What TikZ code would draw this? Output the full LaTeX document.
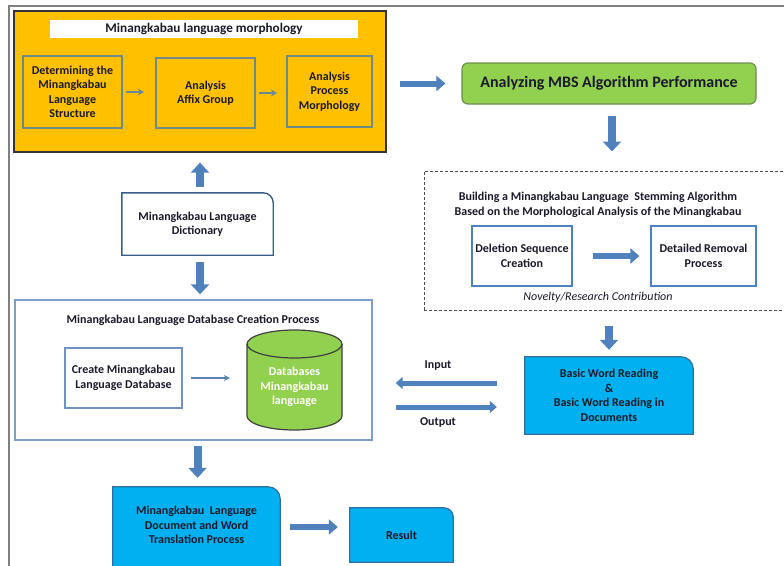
\documentclass[tikz,border=0pt]{standalone}
\usepackage{fontspec}
\setmainfont{Carlito}
\usetikzlibrary{arrows.meta}
\definecolor{gold}{HTML}{FFC000}
\definecolor{tealgray}{HTML}{6F8A8A}
\definecolor{lgreen}{HTML}{92D050}
\definecolor{dgreen}{HTML}{6E8F4E}
\definecolor{cyanfill}{HTML}{00B0F0}
\definecolor{cyanedge}{HTML}{2F6F9F}
\definecolor{blockblue}{HTML}{4F81BD}
\definecolor{navy}{HTML}{385D8A}
\definecolor{lblue}{HTML}{7BA0CD}
\definecolor{txt}{HTML}{1A1A2A}
\newcommand{\trbox}[3]{%
  \draw[#3] (#1.south west) -- (#1.north west) -- ([xshift=-#2pt]#1.north east)
    .. controls ([xshift=-0.45*#2pt]#1.north east) and ([yshift=-0.45*#2pt]#1.north east) ..
    ([yshift=-#2pt]#1.north east) -- (#1.south east) -- cycle;}
\begin{document}
\begin{tikzpicture}[x=1pt,y=-1pt,
  sz/.style 2 args={minimum width=#1pt, minimum height=#2pt, inner sep=0pt},
  lbl/.style={font=\fontsize{12}{14.5}\selectfont\bfseries, text=txt, align=center},
  ibox/.style={draw=tealgray, line width=2.2pt, fill=gold},
  thin/.style={draw=blockblue!80!gray, line width=1.2pt, -{Stealth[length=6pt,width=6pt]}},
  thinteal/.style={draw=tealgray!80!blockblue, line width=1.6pt, -{Stealth[length=6pt,width=7pt]}},
  blk/.style={draw=blockblue, line width=6pt, -{Triangle[length=9pt,width=15pt]}},
  blkv/.style={draw=blockblue, line width=8pt, -{Triangle[length=10pt,width=18pt]}},
  blks/.style={draw=blockblue, line width=5pt, -{Triangle[length=7pt,width=12pt]}},
]
\useasboundingbox (0,0) rectangle (784,565);
\fill[white] (0,0) rectangle (784,565);
% outer frame
\draw[gray, line width=2pt] (9,566) -- (9,6) -- (786,6);

% yellow morphology block
\node[sz={372}{141}, fill=gold, draw=black!80, line width=1.3pt] (yel) at (200,81.5) {};
\node[sz={308}{18}, fill=white, lbl, font=\fontsize{13.2}{15}\selectfont\bfseries] (ytitle) at (204,29) {Minangkabau language morphology};
\node[sz={99}{72}, ibox, lbl] (b1) at (72.5,92) {Determining the\\Minangkabau\\Language\\Structure};
\node[sz={99}{70}, ibox, lbl] (b2) at (205.5,93) {Analysis\\Affix Group};
\node[sz={85}{71}, ibox, lbl] (b3) at (329.5,91.5) {Analysis\\Process\\Morphology};
\draw[thinteal, shorten <=3pt, shorten >=11pt] (b1.east) -- (b1.east -| b2.west);
\draw[thinteal, shorten <=3pt, shorten >=9pt] (b2.east) -- (b2.east -| b3.west);

% performance
\node[sz={294}{41}, fill=lgreen, draw=dgreen, line width=1.2pt, rounded corners=6pt, lbl, font=\fontsize{16}{18}\selectfont\bfseries] (perf) at (609,83.5) {Analyzing MBS Algorithm Performance};
\draw[blk, shorten <=13pt, shorten >=16pt] (yel.east |- perf.west) -- (perf.west);

% dashed stemming block
\node[sz={360}{139}, draw=black!70, line width=1pt, dash pattern=on 3pt off 2pt] (stem) at (604,240.5) {};
\node[lbl, font=\fontsize{12}{15}\selectfont\bfseries] (stitle) at (598,205) {Building a Minangkabau Language\ \ Stemming Algorithm\\Based on the Morphological Analysis of the Minangkabau};
\node[sz={100}{60}, draw=blockblue, line width=1.2pt, lbl] (del) at (522,256) {Deletion Sequence\\Creation};
\node[sz={105}{60}, draw=blockblue, line width=1.2pt, lbl] (rem) at (703.5,256) {Detailed Removal\\Process};
\node[font=\fontsize{12}{14}\selectfont\itshape, text=txt] (nov) at (598,297) {Novelty/Research Contribution};
\draw[blk, shorten <=20pt, shorten >=11pt] (del.east) -- (rem.west);
\draw[blkv, shorten <=11pt, shorten >=19pt] ([xshift=3pt]perf.south) -- ([xshift=3pt]perf.south |- stem.north);

% basic word reading
\node[sz={168}{77}] (bwr) at (609,395.5) {};
\draw[blkv, shorten <=15pt, shorten >=7pt] (stem.south -| bwr.north) -- (bwr.north);

% dictionary
\node[sz={151}{62}] (dict) at (197.5,224) {};

% database process
\node[sz={357}{140}, draw=lblue, line width=1.4pt, fill=white] (dbp) at (193.5,370) {};
\node[lbl] (dbtitle) at (193,320) {Minangkabau Language Database Creation Process};
\node[sz={117}{60}, draw=lblue!80!navy, line width=1.4pt, lbl] (create) at (123.5,378) {Create Minangkabau\\Language Database};
% cylinder
\node[sz={95}{100}] (cyl) at (294.5,380) {};
\begin{scope}[shift={(cyl.center)}, x=1pt, y=1pt]
  \fill[lgreen] (-47.5,36) -- (-47.5,-36) arc[start angle=180, end angle=360, x radius=47.5pt, y radius=14pt]
     -- (47.5,36) arc[start angle=0, end angle=180, x radius=47.5pt, y radius=14pt] -- cycle;
  \draw[black!75, line width=1.2pt] (-47.5,36) -- (-47.5,-36) arc[start angle=180, end angle=360, x radius=47.5pt, y radius=14pt] -- (47.5,36);
  \draw[black!75, line width=1.2pt] (0,36) ellipse[x radius=47.5pt, y radius=14pt];
\end{scope}
\node[text=white, align=center, font=\fontsize{12}{14.5}\selectfont\bfseries] (cyltxt) at (294.5,387) {Databases\\Minangkabau\\language};
\draw[thin, shorten <=8pt, shorten >=17pt] (create.east) -- (create.east -| cyl.west);

% translation and result
\node[sz={167}{80}] (trans) at (196.5,527) {};
\node[sz={103}{54}] (res) at (401.5,535) {};

% rounded-corner boxes
\trbox{bwr}{12}{fill=cyanfill, draw=cyanedge, line width=1.2pt}
\trbox{dict}{10}{fill=white, draw=navy, line width=1.4pt}
\trbox{trans}{12}{fill=cyanfill, draw=cyanedge, line width=1.2pt}
\trbox{res}{9}{fill=cyanfill, draw=cyanedge, line width=1.2pt}
\node[lbl] (bwrtxt) at (bwr) {Basic Word Reading\\\&\\Basic Word Reading in\\Documents};
\node[lbl] (dicttxt) at (dict) {Minangkabau Language\\Dictionary};
\node[lbl] (transtxt) at ([yshift=2pt]trans.center) {Minangkabau\ \ Language\\Document and Word\\Translation Process};
\node[lbl] (restxt) at (res) {Result};

% arrows
\draw[blkv, shorten <=6pt, shorten >=10pt] ([xshift=2.5pt]dict.north) -- ([xshift=2.5pt]dict.north |- yel.south);
\draw[blkv, shorten <=7pt, shorten >=5pt] ([xshift=2.5pt]dict.south) -- ([xshift=2.5pt]dict.south |- dbp.north);
\draw[blks, shorten <=28pt, shorten >=23pt] ([yshift=12.5pt]bwr.west) -- ([yshift=12.5pt]bwr.west -| dbp.east);
\draw[blks, shorten <=23pt, shorten >=28pt] ([yshift=-11.5pt]bwr.west -| dbp.east) -- ([yshift=-11.5pt]bwr.west);
\node[lbl] (inlbl) at (438,366) {Input};
\node[lbl] (outlbl) at (438,423) {Output};
\draw[blkv, shorten <=5pt, shorten >=9pt] ([xshift=4pt]dbp.south) -- ([xshift=4pt]dbp.south |- trans.north);
\draw[blk, shorten <=10pt, shorten >=12pt] (trans.east) -- (trans.east -| res.west);
\end{tikzpicture}
\end{document}
